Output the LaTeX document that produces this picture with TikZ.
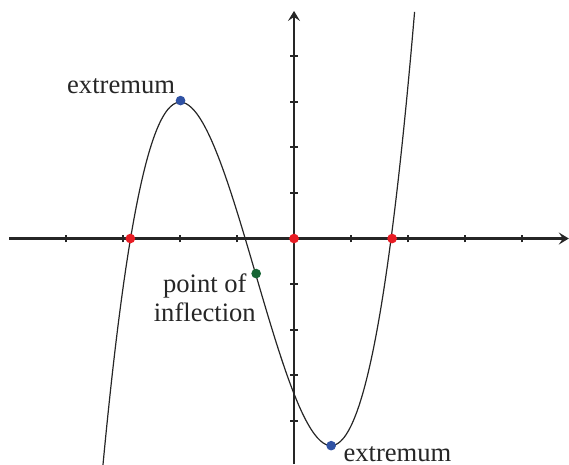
\documentclass[tikz,border=0pt]{standalone}
\usepackage{fontspec}
\setmainfont{Liberation Serif}
\usepackage{xcolor}
\usepackage{tikz}
\usetikzlibrary{arrows.meta}

\definecolor{ptred}{RGB}{232,28,36}
\definecolor{ptblue}{RGB}{48,82,164}
\definecolor{ptgreen}{RGB}{22,101,52}

\begin{document}
\begin{tikzpicture}[
    x=1cm, y=0.8cm,
    every node/.style={font=\rmfamily\fontsize{13.3}{14.2}\selectfont},
    axis/.style={line width=1.1pt, color=black!85, -{Stealth[length=5pt, width=6pt, inset=2pt]}},
    tick/.style={line width=1pt, color=black!85},
    curve/.style={line width=0.6pt, color=black!85},
    dot/.style={circle, fill=#1, inner sep=0pt, minimum size=0.17cm},
    dot/.default=ptred,
    lbl/.style={inner sep=0pt, text=black!85, align=center},
]

\useasboundingbox (-5.167,-4.954) rectangle (4.833,5.24);

% --- Axes ---
\coordinate (xmin) at (-5,0);
\coordinate (xmax) at (4.83,0);
\coordinate (ymin) at (0,-4.954);
\coordinate (ymax) at (0,5);
\draw[axis] (xmin) -- (xmax);
\draw[axis] (ymin) -- (ymax);

% --- Ticks ---
\foreach \t in {-4,-3,-2,-1,1,2,3,4}
    \draw[tick] (\t,-0.085) -- (\t,0.085);
\foreach \t in {-4,-3,-2,-1,1,2,3,4}
    \draw[tick] (-0.07,\t) -- (0.07,\t);

% --- Graph ---
\draw[curve] plot[domain=-3.37:2.12, samples=120, smooth]
    (\x, {0.811*\x*\x*\x + 1.642*\x*\x - 3.163*\x - 3.41});

% --- Points ---
\node[dot] (rootl) at (-2.876,0) {};
\node[dot] (origin) at (0,0) {};
\node[dot] (rootr) at (1.724,0) {};
\node[dot=ptblue] (max) at (-1.994,3.03) {};
\node[dot=ptblue] (min) at (0.653,-4.55) {};
\node[dot=ptgreen] (infl) at (-0.665,-0.77) {};

% --- Labels ---
\node[lbl, anchor=base east, xshift=-0.09cm, yshift=0.12cm] (maxlabel) at (max) {extremum};
\node[lbl, anchor=base west, xshift=0.21cm, yshift=-0.27cm] (minlabel) at (min) {extremum};
\node[lbl, anchor=north east] (infllabel) at (infl) {point of\\inflection};

\end{tikzpicture}
\end{document}
